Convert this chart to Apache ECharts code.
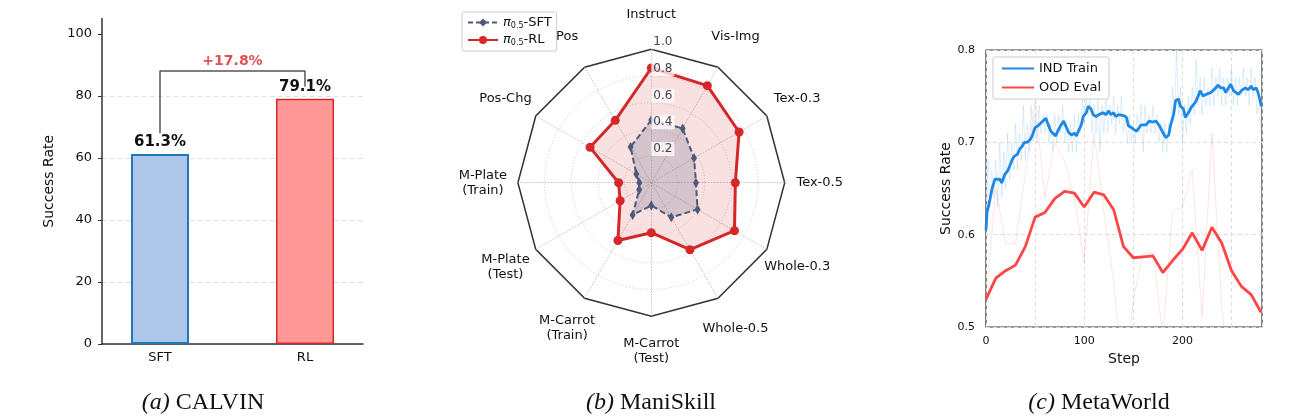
<!DOCTYPE html>
<html>
<head>
<meta charset="utf-8">
<title>SFT vs RL</title>
<script src="https://cdn.jsdelivr.net/npm/echarts@6/dist/echarts.min.js"></script>
<style>
  html, body { margin: 0; padding: 0; background: #fff; }
  #main { width: 1314px; height: 420px; }
</style>
</head>
<body>
<div id="main"></div>
<script>
// ---- (a) CALVIN ----
var calvinNames = ['SFT', 'RL'];
var calvinValues = [61.3, 79.1];
var calvinTicks = [0, 20, 40, 60, 80, 100];
var calvinGain = '+17.8%';

// ---- (b) ManiSkill (clockwise from top) ----
var skillTasks = ['Instruct', 'Vis-Img', 'Tex-0.3', 'Tex-0.5', 'Whole-0.3', 'Whole-0.5',
  'M-Carrot\n(Test)', 'M-Carrot\n(Train)', 'M-Plate\n(Test)', 'M-Plate\n(Train)', 'Pos-Chg', 'Pos'];
var skillSFT = [0.47, 0.47, 0.37, 0.335, 0.40, 0.30, 0.17, 0.28, 0.105, 0.09, 0.13, 0.31];
var skillRL = [0.86, 0.84, 0.76, 0.63, 0.72, 0.58, 0.375, 0.50, 0.27, 0.245, 0.53, 0.54];

// ---- (c) MetaWorld ----
var indSteps = [0, 1, 4, 6, 9, 11, 14, 16, 19, 22, 24, 27, 29, 32, 34, 37, 39, 42, 45, 47,
  50, 53, 55, 58, 61, 63, 66, 68, 71, 73, 76, 79, 82, 84, 87, 90, 92, 94, 97, 99,
  102, 104, 107, 109, 112, 115, 117, 119, 122, 125, 127, 130, 132, 135, 137, 140, 143, 145, 148, 150,
  153, 156, 158, 160, 163, 166, 168, 170, 173, 176, 178, 181, 183, 186, 188, 191, 193, 196, 198, 201,
  203, 206, 209, 211, 213, 216, 218, 221, 224, 226, 229, 231, 234, 236, 239, 242, 244, 247, 249, 252,
  254, 257, 260, 262, 264, 267, 270, 272, 275, 277, 280, 281];
var indSmooth = [0.605, 0.624, 0.638, 0.649, 0.660, 0.658, 0.660, 0.656, 0.665, 0.669, 0.674, 0.682, 0.685, 0.687, 0.692, 0.696, 0.700, 0.700, 0.703, 0.707,
  0.716, 0.718, 0.720, 0.723, 0.726, 0.720, 0.712, 0.710, 0.707, 0.712, 0.718, 0.723, 0.716, 0.711, 0.708, 0.710, 0.707, 0.709, 0.719, 0.728,
  0.732, 0.739, 0.736, 0.730, 0.728, 0.730, 0.728, 0.732, 0.730, 0.734, 0.730, 0.732, 0.728, 0.730, 0.732, 0.729, 0.727, 0.718, 0.716, 0.714,
  0.712, 0.716, 0.719, 0.721, 0.719, 0.723, 0.721, 0.722, 0.723, 0.719, 0.718, 0.709, 0.705, 0.708, 0.719, 0.730, 0.745, 0.747, 0.739, 0.736,
  0.727, 0.732, 0.738, 0.739, 0.743, 0.750, 0.756, 0.750, 0.752, 0.750, 0.754, 0.752, 0.759, 0.762, 0.759, 0.759, 0.754, 0.759, 0.763, 0.756,
  0.754, 0.752, 0.756, 0.757, 0.759, 0.757, 0.761, 0.757, 0.759, 0.754, 0.741, 0.739];
// raw IND train rate, one reading every 2 steps
var indRaw = [0.60, 0.68, 0.63, 0.67, 0.64, 0.68, 0.63, 0.70, 0.64, 0.69,
  0.65, 0.71, 0.66, 0.70, 0.67, 0.72, 0.67, 0.71, 0.68, 0.74,
  0.68, 0.72, 0.69, 0.74, 0.70, 0.73, 0.70, 0.74, 0.71, 0.73,
  0.71, 0.73, 0.70, 0.72, 0.69, 0.73, 0.70, 0.73, 0.71, 0.74,
  0.70, 0.72, 0.69, 0.72, 0.69, 0.73, 0.69, 0.73, 0.71, 0.75,
  0.72, 0.75, 0.73, 0.75, 0.71, 0.74, 0.71, 0.75, 0.69, 0.74,
  0.71, 0.75, 0.71, 0.74, 0.72, 0.75, 0.71, 0.74, 0.72, 0.75,
  0.71, 0.73, 0.70, 0.73, 0.70, 0.72, 0.70, 0.73, 0.71, 0.74,
  0.69, 0.74, 0.71, 0.73, 0.71, 0.74, 0.71, 0.73, 0.70, 0.72,
  0.69, 0.72, 0.69, 0.72, 0.71, 0.76, 0.73, 0.80, 0.73, 0.76,
  0.70, 0.74, 0.71, 0.75, 0.72, 0.76, 0.73, 0.79, 0.74, 0.77,
  0.73, 0.77, 0.74, 0.76, 0.74, 0.78, 0.74, 0.77, 0.75, 0.78,
  0.74, 0.77, 0.74, 0.77, 0.75, 0.78, 0.74, 0.77, 0.74, 0.77,
  0.75, 0.78, 0.75, 0.77, 0.74, 0.78, 0.75, 0.77, 0.73, 0.75,
  0.71];
var oodSteps = [0, 10, 20, 30, 40, 50, 60, 70, 80, 90, 100, 110, 120, 130, 140,
  150, 160, 170, 180, 190, 200, 210, 220, 230, 240, 250, 260, 270, 280];
var oodRaw = [0.53, 0.65, 0.59, 0.59, 0.665, 0.745, 0.64, 0.70, 0.68, 0.64, 0.57, 0.71, 0.625, 0.55, 0.43,
  0.53, 0.58, 0.58, 0.49, 0.625, 0.63, 0.67, 0.51, 0.71, 0.52, 0.44, 0.48, 0.50, 0.44];
var oodSmooth = [0.530, 0.553, 0.561, 0.567, 0.587, 0.619, 0.624, 0.639, 0.647, 0.645, 0.630, 0.646, 0.643, 0.627, 0.587,
  0.575, 0.576, 0.577, 0.559, 0.572, 0.584, 0.602, 0.583, 0.608, 0.591, 0.561, 0.544, 0.535, 0.516];
var metaXTicks = [0, 100, 200];
var metaYTicks = [0.5, 0.6, 0.7, 0.8];

var FONT = 'DejaVu Sans';
var SFT_C = '#4f5a7a', RL_C = '#d62728';
var chart = echarts.init(document.getElementById('main'));

function zip(xs, ys) { return xs.map(function (x, i) { return [x, ys[i]]; }); }

// radar lays indicators out counter-clockwise, the figure goes clockwise
var order = [0];
for (var k = skillTasks.length - 1; k > 0; k--) order.push(k);
function reorder(arr) { return order.map(function (i) { return arr[i]; }); }

var indicators = reorder(skillTasks).map(function (t) { return { name: t, min: 0, max: 1 }; });
var labelIndicators = indicators.map(function (d, i) {
  var o = { name: '', min: 0, max: 1 };
  if (i === 0) o.axisLabel = { show: true };
  return o;
});

var sftLegend = 'π0.5-SFT', rlLegend = 'π0.5-RL';
var bracketTop = Math.max.apply(null, calvinValues) + 9;
var bracket = [[0, calvinValues[0] + 6.7], [0, bracketTop], [1, bracketTop], [1, calvinValues[1] + 4]];

var radarCommon = { center: [651.3, 182.7], radius: 133.4, startAngle: 90, splitArea: { show: false }, axisTick: { show: false } };

var option = {
  animation: false,
  textStyle: { fontFamily: FONT },
  grid: [
    { left: 102, top: 18.5, width: 261, height: 325.5, outerBoundsMode: 'none' },
    { left: 986, top: 50, width: 276, height: 277, show: true, borderColor: '#333', borderWidth: 1.2, outerBoundsMode: 'none' }
  ],
  xAxis: [
    {
      gridIndex: 0, type: 'value', min: -0.4, max: 1.4,
      axisLine: { show: true, onZero: false, lineStyle: { color: '#333', width: 1.5 } },
      axisTick: { show: false }, splitLine: { show: false },
      axisLabel: { customValues: [0, 1], formatter: function (v) { return calvinNames[Math.round(v)]; },
        color: '#111', fontSize: 13, margin: 7, fontFamily: FONT }
    },
    {
      gridIndex: 1, type: 'value', min: 0, max: 281,
      name: 'Step', nameLocation: 'middle', nameGap: 21,
      nameTextStyle: { fontSize: 14, color: '#111', fontFamily: FONT },
      axisLine: { show: false, onZero: false }, axisTick: { show: false },
      axisLabel: { customValues: metaXTicks, color: '#111', fontSize: 11, margin: 9, fontFamily: FONT },
      splitLine: { show: true, lineStyle: { color: '#ddd', type: [4, 3], width: 1 } }
    }
  ],
  yAxis: [
    {
      gridIndex: 0, type: 'value', min: 0, max: 105,
      name: 'Success Rate', nameLocation: 'middle', nameGap: 46,
      nameTextStyle: { fontSize: 14, color: '#111', fontFamily: FONT },
      axisLine: { show: true, onZero: false, lineStyle: { color: '#333', width: 1.5 } },
      axisTick: { show: true, length: 4, customValues: calvinTicks, lineStyle: { color: '#333', width: 1 } },
      axisLabel: { customValues: calvinTicks, color: '#111', fontSize: 13, margin: 10, fontFamily: FONT },
      splitLine: { show: true, showMaxLine: false, lineStyle: { color: '#e0e0e0', type: [5, 3], width: 1 } }
    },
    {
      gridIndex: 1, type: 'value', min: 0.5, max: 0.8, interval: 0.1,
      name: 'Success Rate', nameLocation: 'middle', nameGap: 33,
      nameTextStyle: { fontSize: 14, color: '#111', fontFamily: FONT },
      axisLine: { show: false, onZero: false }, axisTick: { show: false },
      axisLabel: { customValues: metaYTicks, formatter: function (v) { return v.toFixed(1); },
        color: '#111', fontSize: 11, margin: 11, fontFamily: FONT },
      splitLine: { show: true, lineStyle: { color: '#ddd', type: [4, 3], width: 1 } }
    }
  ],
  radar: [
    Object.assign({}, radarCommon, {
      shape: 'circle', splitNumber: 5, indicator: indicators, nameGap: 35,
      axisName: { show: true, color: '#111', fontSize: 13, fontFamily: FONT, align: 'center', verticalAlign: 'middle', lineHeight: 15 },
      axisLine: { lineStyle: { color: '#bbb', type: [1, 2], width: 0.8 } },
      splitLine: { lineStyle: { color: ['rgba(0,0,0,0)', '#bbb', '#bbb', '#bbb', '#bbb', 'rgba(0,0,0,0)'], type: [1, 2], width: 0.8 } },
      axisLabel: { show: false }
    }),
    Object.assign({}, radarCommon, {
      shape: 'polygon', splitNumber: 1, indicator: indicators.map(function (d) { return { name: '', min: 0, max: 1 }; }),
      axisName: { show: false }, axisLine: { show: false }, axisLabel: { show: false },
      splitLine: { lineStyle: { color: '#333', width: 1.5 } }
    }),
    Object.assign({}, radarCommon, {
      z: 5, shape: 'circle', splitNumber: 5, indicator: labelIndicators,
      axisName: { show: false }, axisLine: { show: false }, splitLine: { show: false },
      axisLabel: { show: false, showMinLabel: false, margin: 0, align: 'left', verticalAlign: 'bottom',
        formatter: function (v) { return Number(v).toFixed(1); },
        color: '#444', fontSize: 12, fontFamily: FONT,
        backgroundColor: 'rgba(255,255,255,0.75)', padding: [1, 2, 1, 2] }
    })
  ],
  legend: [
    {
      data: [sftLegend, rlLegend], orient: 'vertical', left: 462, top: 12,
      padding: [4, 5], itemGap: 4, itemWidth: 30, itemHeight: 10,
      borderColor: '#ccc', borderWidth: 1, borderRadius: 2, backgroundColor: '#fff',
      formatter: function (n) { return '{pi|π}{sub|0.5}' + n.slice(4); },
      textStyle: { fontSize: 13, color: '#111', fontFamily: FONT,
        rich: { pi: { fontSize: 13, fontStyle: 'italic', fontFamily: FONT }, sub: { fontSize: 8, padding: [6, 0, 0, 0], fontFamily: FONT } } }
    },
    {
      data: ['IND Train', 'OOD Eval'], orient: 'vertical', left: 993, top: 57,
      padding: [5, 8], itemGap: 6, itemWidth: 32, itemHeight: 14,
      borderColor: '#ccc', borderWidth: 1, borderRadius: 2, backgroundColor: '#fff',
      itemStyle: { opacity: 0 },
      textStyle: { fontSize: 13, color: '#111', fontFamily: FONT }
    }
  ],
  graphic: [
    { type: 'text', x: 203, y: 403, style: { text: '{i|(a)} CALVIN', fontFamily: 'Liberation Serif', fontSize: 24, fill: '#111', align: 'center', verticalAlign: 'middle',
      rich: { i: { fontStyle: 'italic', fontFamily: 'Liberation Serif', fontSize: 24 } } } },
    { type: 'text', x: 651, y: 403, style: { text: '{i|(b)} ManiSkill', fontFamily: 'Liberation Serif', fontSize: 24, fill: '#111', align: 'center', verticalAlign: 'middle',
      rich: { i: { fontStyle: 'italic', fontFamily: 'Liberation Serif', fontSize: 24 } } } },
    { type: 'text', x: 1099, y: 403, style: { text: '{i|(c)} MetaWorld', fontFamily: 'Liberation Serif', fontSize: 24, fill: '#111', align: 'center', verticalAlign: 'middle',
      rich: { i: { fontStyle: 'italic', fontFamily: 'Liberation Serif', fontSize: 24 } } } }
  ],
  series: [
    {
      type: 'bar', xAxisIndex: 0, yAxisIndex: 0, barWidth: 58,
      data: [
        { value: [0, calvinValues[0]], itemStyle: { color: '#aec7e8', borderColor: '#1f77b4', borderWidth: 2 } },
        { value: [1, calvinValues[1]], itemStyle: { color: '#ff9896', borderColor: '#d62728', borderWidth: 1.5 } }
      ],
      label: { show: true, position: 'top', distance: 4, fontSize: 15, fontWeight: 'bold', color: '#111', fontFamily: FONT,
        formatter: function (p) { return p.value[1].toFixed(1) + '%'; } }
    },
    {
      type: 'line', xAxisIndex: 0, yAxisIndex: 0, data: bracket, symbol: 'none',
      lineStyle: { color: '#555', width: 1.5 }, z: 1
    },
    {
      type: 'scatter', xAxisIndex: 0, yAxisIndex: 0, data: [[0.5, bracketTop]], symbolSize: 0,
      label: { show: true, position: 'top', distance: 3, formatter: calvinGain, color: '#d62728', fontSize: 14, fontWeight: 'bold', fontFamily: FONT }
    },
    // legend swatches for the radar series
    { type: 'line', name: sftLegend, xAxisIndex: 0, yAxisIndex: 0, data: [], symbol: 'diamond', symbolSize: [6, 10],
      itemStyle: { color: SFT_C }, lineStyle: { color: SFT_C, width: 2, type: [5, 3] } },
    { type: 'line', name: rlLegend, xAxisIndex: 0, yAxisIndex: 0, data: [], symbol: 'circle', symbolSize: 9,
      itemStyle: { color: RL_C }, lineStyle: { color: RL_C, width: 3.5 } },
    {
      type: 'radar', name: rlLegend, radarIndex: 0, symbol: 'circle', symbolSize: 9,
      itemStyle: { color: RL_C }, lineStyle: { color: RL_C, width: 3 },
      areaStyle: { color: 'rgba(214,39,40,0.2)' },
      data: [{ value: reorder(skillRL), name: rlLegend }]
    },
    {
      type: 'radar', name: sftLegend, radarIndex: 0, symbol: 'diamond', symbolSize: [6, 10],
      itemStyle: { color: SFT_C }, lineStyle: { color: SFT_C, width: 2, type: [6, 3] },
      areaStyle: { color: 'rgba(79,90,122,0.3)' },
      data: [{ value: reorder(skillSFT), name: sftLegend }]
    },
    {
      type: 'line', name: 'IND raw', xAxisIndex: 1, yAxisIndex: 1, symbol: 'none',
      data: indRaw.map(function (v, i) { return [i * 2, v]; }),
      lineStyle: { color: 'rgba(30,136,229,0.14)', width: 1 }
    },
    {
      type: 'line', name: 'OOD raw', xAxisIndex: 1, yAxisIndex: 1, symbol: 'none',
      data: zip(oodSteps, oodRaw),
      lineStyle: { color: 'rgba(255,70,70,0.15)', width: 1 }
    },
    {
      type: 'line', name: 'IND Train', xAxisIndex: 1, yAxisIndex: 1, symbol: 'none',
      data: zip(indSteps, indSmooth), itemStyle: { color: '#1e88e5' },
      lineStyle: { color: '#1e88e5', width: 2.8 }
    },
    {
      type: 'line', name: 'OOD Eval', xAxisIndex: 1, yAxisIndex: 1, symbol: 'none',
      data: zip(oodSteps, oodSmooth), itemStyle: { color: '#ff4545' },
      lineStyle: { color: '#ff4545', width: 2.8 }
    }
  ]
};

chart.setOption(option);
window.onresize = function () { chart.resize(); };
</script>
</body>
</html>
